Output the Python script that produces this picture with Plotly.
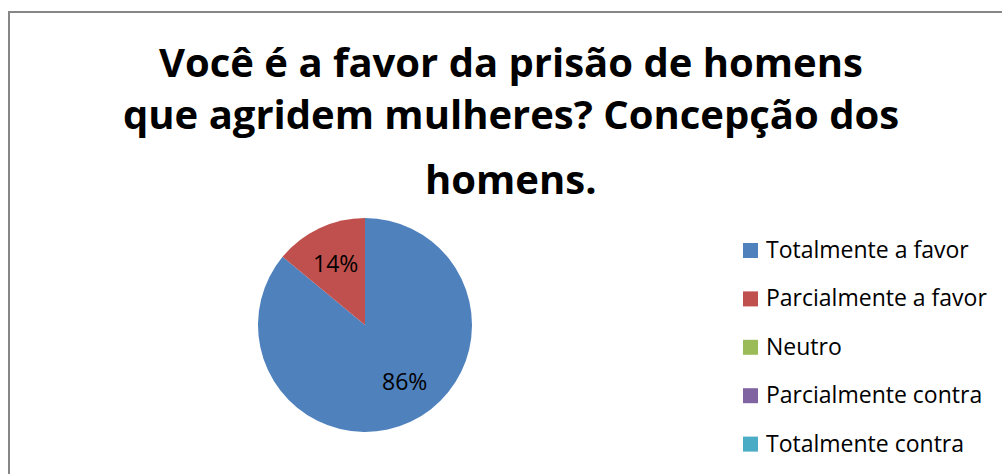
import math
import plotly.graph_objects as go

# Survey answers and their share of respondents (%)
categories = ["Totalmente a favor", "Parcialmente a favor", "Neutro",
              "Parcialmente contra", "Totalmente contra"]
values = [86, 14, 0, 0, 0]
colors = ["#4F81BD", "#C0504D", "#9BBB59", "#8064A2", "#4BACC6"]
title_lines = ["Você é a favor da prisão de homens",
               "que agridem mulheres? Concepção dos",
               "homens."]

W, H = 1002, 474
FONT = "Open Sans"

# Pie geometry in pixels
CX, CY, R = 365, 325, 107


def px(x):
    return x / W


def py(y):
    return 1 - y / H


fig = go.Figure()

fig.add_trace(go.Pie(
    labels=categories,
    values=values,
    marker=dict(colors=colors, line=dict(width=0)),
    sort=False,
    direction="clockwise",
    rotation=0,
    textinfo="none",
    showlegend=False,
    hoverinfo="label+percent",
    domain=dict(x=[px(CX - R), px(CX + R)], y=[py(CY + R), py(CY - R)]),
))

annotations = []

# Percentage labels placed along each slice's mid-angle;
# the large slice's label is nudged toward its open side
label_nudge = {0: (10, -6)}
total = sum(values)
start = 0.0
for i, v in enumerate(values):
    if v <= 0:
        continue
    frac = v / total
    mid = (start + frac / 2) * 2 * math.pi
    start += frac
    dx, dy = label_nudge.get(i, (0, 0))
    lx = CX + 0.64 * R * math.sin(mid) + dx
    ly = CY - 0.64 * R * math.cos(mid) + dy
    annotations.append(dict(
        x=px(lx), y=py(ly), xref="paper", yref="paper",
        text=f"{round(frac * 100)}%", showarrow=False,
        xanchor="center", yanchor="middle",
        font=dict(family=FONT, size=23, color="black"),
    ))

# Title, one line per annotation
title_mid_y = [62, 114, 178]
for line, ty in zip(title_lines, title_mid_y):
    annotations.append(dict(
        x=px(511), y=py(ty), xref="paper", yref="paper",
        text=f"<b>{line}</b>", showarrow=False,
        xanchor="center", yanchor="middle",
        font=dict(family=FONT, size=40, color="black"),
    ))

# Legend: colour squares with the category names
shapes = []
LEG_X, LEG_Y0, LEG_STEP, SQ = 743, 250.5, 48.4, 15
for i, (name, col) in enumerate(zip(categories, colors)):
    cy = LEG_Y0 + i * LEG_STEP
    shapes.append(dict(
        type="rect", xref="paper", yref="paper",
        x0=px(LEG_X), x1=px(LEG_X + SQ),
        y0=py(cy + SQ / 2), y1=py(cy - SQ / 2),
        fillcolor=col, line=dict(width=0),
    ))
    annotations.append(dict(
        x=px(764), y=py(cy - 1.5), xref="paper", yref="paper",
        text=name, showarrow=False,
        xanchor="left", yanchor="middle",
        font=dict(family=FONT, size=23, color="black"),
    ))

# Chart-area frame
shapes.append(dict(
    type="rect", xref="paper", yref="paper",
    x0=px(9), x1=1.05, y0=-0.05, y1=py(12),
    line=dict(color="#868686", width=2),
))

fig.update_layout(
    width=W, height=H,
    margin=dict(l=0, r=0, t=0, b=0),
    paper_bgcolor="white",
    plot_bgcolor="white",
    showlegend=False,
    annotations=annotations,
    shapes=shapes,
)

fig.write_html("out.html")
